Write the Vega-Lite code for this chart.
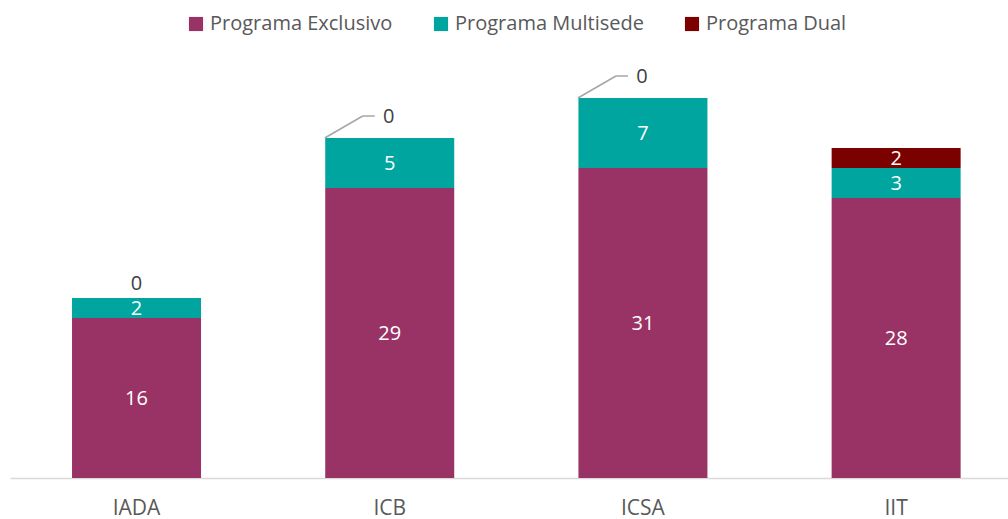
{
  "$schema": "https://vega.github.io/schema/vega-lite/v6.json",
  "width": 998,
  "height": 400,
  "autosize": {"type": "none"},
  "padding": {"top": 78, "left": 10, "right": 0, "bottom": 41},
  "background": "white",
  "config": {"view": {"stroke": null}, "font": "Open Sans"},
  "data": {"values": [
    {"cat": "IADA", "series": "Programa Exclusivo", "value": 16},
    {"cat": "IADA", "series": "Programa Multisede", "value": 2},
    {"cat": "IADA", "series": "Programa Dual", "value": 0},
    {"cat": "ICB", "series": "Programa Exclusivo", "value": 29},
    {"cat": "ICB", "series": "Programa Multisede", "value": 5},
    {"cat": "ICB", "series": "Programa Dual", "value": 0},
    {"cat": "ICSA", "series": "Programa Exclusivo", "value": 31},
    {"cat": "ICSA", "series": "Programa Multisede", "value": 7},
    {"cat": "ICSA", "series": "Programa Dual", "value": 0},
    {"cat": "IIT", "series": "Programa Exclusivo", "value": 28},
    {"cat": "IIT", "series": "Programa Multisede", "value": 3},
    {"cat": "IIT", "series": "Programa Dual", "value": 2}
  ]},
  "transform": [
    {"calculate": "indexof(['Programa Exclusivo','Programa Multisede','Programa Dual'], datum.series)", "as": "ord"},
    {"stack": "value", "groupby": ["cat"], "sort": [{"field": "ord", "order": "ascending"}], "as": ["y0", "y1"]},
    {"calculate": "(datum.y0 + datum.y1) / 2", "as": "ymid"}
  ],
  "encoding": {
    "x": {
      "field": "cat", "type": "nominal", "sort": null,
      "scale": {"paddingInner": 0.4905, "paddingOuter": 0.216, "align": 0.567},
      "axis": {"title": null, "labelAngle": 0, "ticks": false, "domainColor": "#D9D9D9", "domainWidth": 1.5, "labelFontSize": 21, "labelColor": "#595959", "labelPadding": 30, "labelBaseline": "middle"}
    }
  },
  "layer": [
    {
      "mark": {"type": "bar"},
      "encoding": {
        "y": {"field": "y1", "type": "quantitative", "scale": {"domain": [0, 40]}, "axis": null},
        "y2": {"field": "y0"},
        "color": {
          "field": "series", "type": "nominal",
          "scale": {"domain": ["Programa Exclusivo", "Programa Multisede", "Programa Dual"], "range": ["#993366", "#00A59F", "#7B0000"]},
          "legend": {"title": null, "orient": "none", "direction": "horizontal", "legendX": 176, "legendY": -64, "symbolType": "square", "symbolSize": 200, "symbolStrokeWidth": 0, "labelFontSize": 20, "labelColor": "#595959", "labelOffset": 4, "labelLimit": 0, "columnPadding": 38}
        }
      }
    },
    {
      "transform": [{"filter": "datum.value > 0"}],
      "mark": {"type": "text", "color": "white", "fontSize": 20, "baseline": "middle", "yOffset": 1},
      "encoding": {
        "y": {"field": "ymid", "type": "quantitative"},
        "text": {"field": "value", "type": "quantitative"}
      }
    },
    {
      "transform": [{"filter": "datum.value == 0 && datum.cat == 'IADA'"}],
      "mark": {"type": "text", "color": "#404040", "fontSize": 20, "baseline": "middle", "yOffset": -14},
      "encoding": {
        "y": {"field": "y1", "type": "quantitative"},
        "text": {"field": "value", "type": "quantitative"}
      }
    },
    {
      "transform": [{"filter": "datum.value == 0 && datum.cat != 'IADA'"}],
      "mark": {"type": "rule", "color": "#A6A6A6", "strokeWidth": 1.5, "xOffset": -65, "x2Offset": -27, "y2Offset": -22},
      "encoding": {
        "x2": {"field": "cat"},
        "y": {"field": "y1", "type": "quantitative"},
        "y2": {"field": "y1"}
      }
    },
    {
      "transform": [{"filter": "datum.value == 0 && datum.cat != 'IADA'"}],
      "mark": {"type": "rule", "color": "#A6A6A6", "strokeWidth": 1.5, "xOffset": -27, "x2Offset": -15, "yOffset": -22},
      "encoding": {
        "x2": {"field": "cat"},
        "y": {"field": "y1", "type": "quantitative"}
      }
    },
    {
      "transform": [{"filter": "datum.value == 0 && datum.cat != 'IADA'"}],
      "mark": {"type": "text", "color": "#404040", "fontSize": 20, "baseline": "middle", "xOffset": -1, "yOffset": -21},
      "encoding": {
        "y": {"field": "y1", "type": "quantitative"},
        "text": {"field": "value", "type": "quantitative"}
      }
    }
  ]
}
